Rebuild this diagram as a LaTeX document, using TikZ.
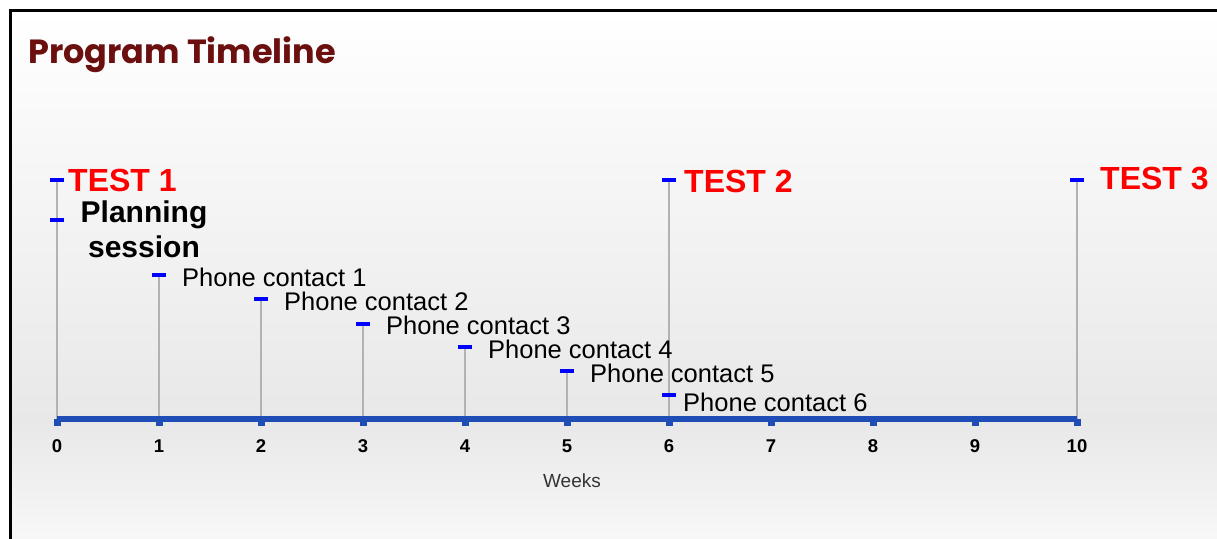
\documentclass[tikz,border=0pt]{standalone}
\usepackage{fontspec}
\setmainfont{Liberation Sans}
\newfontfamily\titlefont{Poppins}
\begin{document}
\begin{tikzpicture}[x=1pt,y=-1pt,
  stem/.style={draw=black!30, line width=2pt},
  dashmark/.style={draw=blue, line width=4pt},
  testlbl/.style={anchor=base west, inner sep=0pt, text=red, font=\fontsize{32}{36}\selectfont\bfseries},
  phonelbl/.style={anchor=base west, inner sep=0pt, font=\fontsize{25.5}{28}\selectfont},
  ticklbl/.style={anchor=base, inner sep=0pt, font=\fontsize{18.5}{20}\selectfont\bfseries},
  axisline/.style={draw=axisblue, line width=6pt}]
\definecolor{axisblue}{HTML}{1E4DB5}
\definecolor{titlered}{HTML}{6B0F0F}
\useasboundingbox (0,0) rectangle (1217,538);
\fill[white] (0,0) rectangle (1217,538);
\shade[top color=white, bottom color=black!9] (10,11) rectangle (1217,420);
\shade[top color=black!9, bottom color=black!3] (10,420) rectangle (1217,538);
\draw[line width=3pt] (10,540) -- (10,10.5) -- (1220,10.5);
% title
\node[anchor=base west, inner sep=0pt, text=titlered, font=\titlefont\fontsize{33.5}{38}\selectfont\bfseries] (title) at (28,63) {Program Timeline};
% axis
\foreach \k in {0,...,10} {
  \coordinate (w\k) at ({57+102*\k},419);
  \fill[axisblue] ({57+102*\k-3.5},419) rectangle ({57+102*\k+3.5},425.5);
  \node[ticklbl] (t\k) at ({57+102*\k},452) {\k};
}
% stems
\coordinate (d0a) at (57,180);
\coordinate (d0b) at (57,220);
\coordinate (d1) at (159,275);
\coordinate (d2) at (261,299);
\coordinate (d3) at (363,324);
\coordinate (d4) at (465,347);
\coordinate (d5) at (567,371);
\coordinate (d6) at (669,395);
\coordinate (d6t) at (669,180);
\coordinate (d10t) at (1077,180);
\foreach \a/\b in {w0/d0a,w1/d1,w2/d2,w3/d3,w4/d4,w5/d5,w6/d6t,w10/d10t}
  \draw[stem] (\a) -- (\b);
\draw[axisline] (w0) -- (w10);
\foreach \c in {d0a,d0b,d1,d2,d3,d4,d5,d6,d6t,d10t}
  \draw[dashmark] ([xshift=-7pt]\c) -- ([xshift=7pt]\c);
% labels
\node[testlbl] (test1) at (68,191) {TEST 1};
\node[testlbl] (test2) at (684,192) {TEST 2};
\node[testlbl] (test3) at (1100,189) {TEST 3};
\node[anchor=base, inner sep=0pt, align=center, font=\fontsize{30}{35}\selectfont\bfseries] (plan) at (144,257) {Planning\\session};
\node[phonelbl] (p1) at (182,286) {Phone contact 1};
\node[phonelbl] (p2) at (284,310) {Phone contact 2};
\node[phonelbl] (p3) at (386,334) {Phone contact 3};
\node[phonelbl] (p4) at (488,358) {Phone contact 4};
\node[phonelbl] (p5) at (590,382) {Phone contact 5};
\node[phonelbl] (p6) at (683,411) {Phone contact 6};
\node[anchor=base, inner sep=0pt, text=black!80, font=\fontsize{19}{22}\selectfont] (weeks) at (572,487) {Weeks};
\end{tikzpicture}
\end{document}
